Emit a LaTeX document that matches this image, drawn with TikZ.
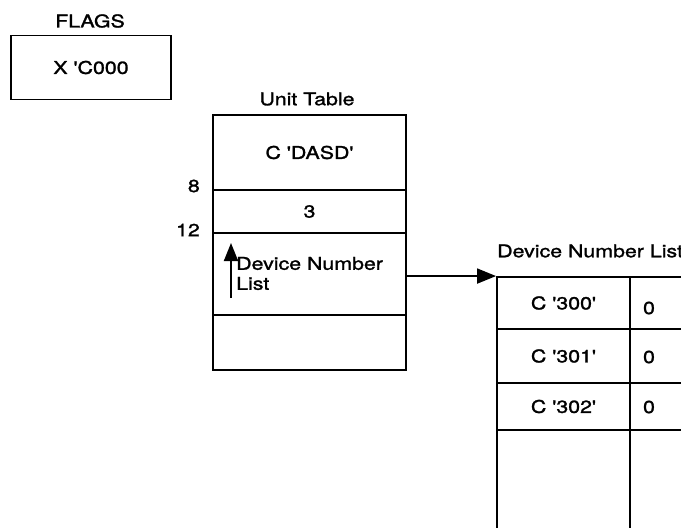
\documentclass[tikz,border=0pt]{standalone}
\usepackage{fontspec}
\setmainfont{TeX Gyre Heros}[FakeStretch=1.22, FakeBold=1.5, Ligatures=TeXOff]
\usetikzlibrary{arrows.meta}
\tikzset{
  lw/.style={line width=1.9pt},
  cell/.style={draw, lw, inner sep=0pt, minimum width=#1},
  lbl/.style={inner sep=0pt},
}
\begin{document}
\begin{tikzpicture}[x=1pt,y=-1pt,font=\fontsize{17.5}{20}\selectfont]
\useasboundingbox (0,0) rectangle (681,528);
\clip (0,0) rectangle (681,528);
% FLAGS
\node[lbl] (flagslbl) at (90,21) {FLAGS};
\node[cell=160, minimum height=64] (flags) at (91,67.5) {X 'C000};
% Unit table
\node[lbl] (unitlbl) at (307,99) {Unit Table};
\node[cell=193, minimum height=75] (u1) at (309.5,152.5) {C 'DASD'};
\node[cell=193, minimum height=43] (u2) at (309.5,211.5) {3};
\node[cell=193, minimum height=82] (u3) at (309.5,274) {};
\node[cell=193, minimum height=55] (u4) at (309.5,342.5) {};
\node[lbl, anchor=east] (off8) at (200,186) {8};
\node[lbl, anchor=east] (off12) at (200,230) {12};
\node[lbl, anchor=west, align=left] (dnltext) at (236,273.5) {Device Number\\List};
\coordinate (ab) at (231,298);
\coordinate (at) at (231,243);
\draw[lw, -{Triangle[length=18pt,width=14pt]}] (ab) -- (at);
% Device number list
\node[lbl, anchor=west] (dnllbl) at (497,251) {Device Number List};
\node[cell=133, minimum height=52] (d1) at (563.5,303) {C '300'};
\node[cell=133, minimum height=54] (d2) at (563.5,356) {C '301'};
\node[cell=133, minimum height=47] (d3) at (563.5,406.5) {C '302'};
\node[cell=133, minimum height=130] (d4) at (563.5,495) {};
\node[cell=100, minimum height=52] (e1) at (680,303) {};
\node[cell=100, minimum height=54] (e2) at (680,356) {};
\node[cell=100, minimum height=47] (e3) at (680,406.5) {};
\node[cell=100, minimum height=130] (e4) at (680,495) {};
\node[lbl] (z1) at (649,308) {0};
\node[lbl] (z2) at (649,357) {0};
\node[lbl] (z3) at (649,407) {0};
% connector
\draw[lw, -{Triangle[length=19pt,width=15pt]}] (u3.east |- d1.north west) -- (d1.north west);
\end{tikzpicture}
\end{document}
